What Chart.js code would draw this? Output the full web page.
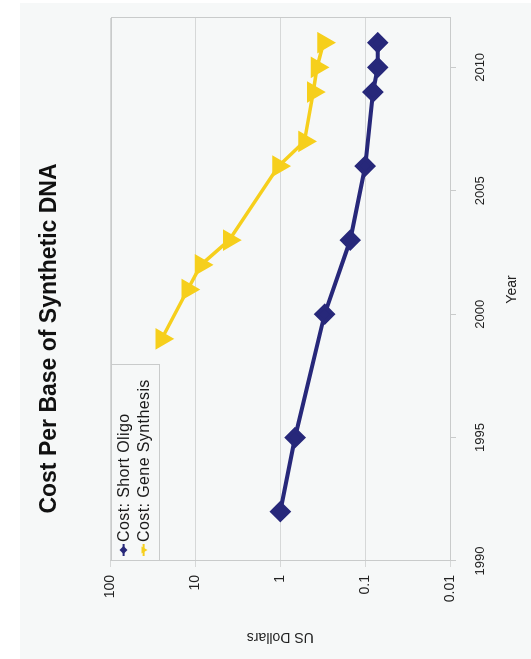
<!DOCTYPE html>
<html>
<head>
<meta charset="utf-8">
<script src="https://cdn.jsdelivr.net/npm/chart.js@4.4.1/dist/chart.umd.min.js"></script>
<style>
  html, body { margin: 0; padding: 0; background: #ffffff; }
  #wrap { position: relative; width: 531px; height: 659px; overflow: hidden; }
  /* the chart is laid out landscape and turned a quarter turn counter-clockwise */
  #chart { position: absolute; left: 0; top: 0; transform-origin: 0 0;
           transform: translate(0, 659px) rotate(-90deg); }
</style>
</head>
<body>
<div id="wrap"><canvas id="chart" width="659" height="531"></canvas></div>
<script>
// Cost per base (US dollars) by year
const oligoYears = [1992, 1995, 2000, 2003, 2006, 2009, 2010, 2011];
const oligoCost  = [1.0, 0.67, 0.30, 0.15, 0.10, 0.081, 0.071, 0.071];
const geneYears  = [1999, 2001, 2002, 2003, 2006, 2007, 2009, 2010, 2011];
const geneCost   = [25, 12.3, 8.6, 4.0, 1.05, 0.52, 0.41, 0.37, 0.31];

const seriesNames = ['Cost: Short Oligo', 'Cost: Gene Synthesis'];
const yearTicks   = [1990, 1995, 2000, 2005, 2010];
const dollarTicks = [100, 10, 1, 0.1, 0.01];

const NAVY = '#27287a';
const GOLD = '#f6cf1c';
const PANEL = '#f6f8f8';
const FRAME = '#c9cbcb';
const FONT = "'Liberation Sans', Arial, sans-serif";

const toPoints = (xs, ys) => xs.map((x, i) => ({ x: x, y: ys[i] }));

// page background, with a thin white margin along two edges
const backdrop = {
  id: 'backdrop',
  beforeDraw(chart) {
    const ctx = chart.ctx;
    ctx.save();
    ctx.fillStyle = '#ffffff';
    ctx.fillRect(0, 0, chart.width, chart.height);
    ctx.fillStyle = PANEL;
    ctx.fillRect(0, 20, chart.width - 3, chart.height - 20);
    ctx.restore();
  }
};

// box round the plot area
const frame = {
  id: 'frame',
  beforeDatasetsDraw(chart) {
    const { left, top, right, bottom } = chart.chartArea;
    const ctx = chart.ctx;
    ctx.save();
    ctx.strokeStyle = FRAME;
    ctx.lineWidth = 1;
    ctx.strokeRect(Math.round(left) + 0.5, Math.round(top) + 0.5,
                   Math.round(right - left), Math.round(bottom - top));
    ctx.restore();
  }
};

function marker(ctx, style, x, y, r, color) {
  ctx.fillStyle = color;
  ctx.beginPath();
  if (style === 'rectRot') {
    ctx.moveTo(x, y - r); ctx.lineTo(x + r, y); ctx.lineTo(x, y + r); ctx.lineTo(x - r, y);
  } else {
    ctx.moveTo(x, y + r); ctx.lineTo(x + r * 0.87, y - r * 0.5); ctx.lineTo(x - r * 0.87, y - r * 0.5);
  }
  ctx.closePath();
  ctx.fill();
}

// legend box in the top-left corner of the plot
const cornerLegend = {
  id: 'cornerLegend',
  afterDraw(chart) {
    const { left, top } = chart.chartArea;
    const ctx = chart.ctx;
    const w = 196, h = 48;
    ctx.save();
    ctx.fillStyle = PANEL;
    ctx.fillRect(left + 1, top + 1, w - 1, h - 1);
    ctx.strokeStyle = FRAME;
    ctx.lineWidth = 1;
    ctx.strokeRect(Math.round(left) + 0.5, Math.round(top) + 0.5, w, h);
    ctx.font = '16px ' + FONT;
    ctx.letterSpacing = '0.4px';
    ctx.textBaseline = 'middle';
    ctx.textAlign = 'left';
    chart.data.datasets.forEach((ds, i) => {
      const y = top + 13 + i * 20;
      const x0 = left + 5;
      ctx.strokeStyle = ds.borderColor;
      ctx.lineWidth = 2;
      ctx.beginPath(); ctx.moveTo(x0, y); ctx.lineTo(x0 + 12, y); ctx.stroke();
      marker(ctx, ds.pointStyle, x0 + 6, y, 4, ds.borderColor);
      ctx.fillStyle = '#1a1a1a';
      ctx.fillText(ds.label, x0 + 14, y + 1);
    });
    ctx.restore();
  }
};

new Chart(document.getElementById('chart'), {
  type: 'line',
  data: {
    datasets: [
      {
        label: seriesNames[0],
        data: toPoints(oligoYears, oligoCost),
        borderColor: NAVY, backgroundColor: NAVY,
        borderWidth: 4, pointStyle: 'rectRot', pointRadius: 8,
        pointHoverRadius: 8, tension: 0
      },
      {
        label: seriesNames[1],
        data: toPoints(geneYears, geneCost),
        borderColor: GOLD, backgroundColor: GOLD,
        borderWidth: 3.5, pointStyle: 'triangle', pointRotation: 180,
        pointRadius: 9, pointHoverRadius: 9, tension: 0
      }
    ]
  },
  options: {
    responsive: false,
    animation: false,
    devicePixelRatio: 1,
    layout: { padding: { left: 0, right: 18, top: 0, bottom: 0 } },
    plugins: {
      legend: { display: false },
      tooltip: { enabled: false },
      title: {
        display: true,
        text: 'Cost Per Base of Synthetic DNA',
        color: '#111111',
        font: { family: FONT, size: 23, weight: 'bold' },
        padding: { top: 36, bottom: 47 }
      }
    },
    scales: {
      x: {
        type: 'linear',
        min: 1990, max: 2012,
        afterFit(scale) { scale.height = 81; },
        afterBuildTicks(scale) { scale.ticks = yearTicks.map(v => ({ value: v })); },
        grid: { drawOnChartArea: false, color: FRAME, tickLength: 6 },
        border: { color: FRAME },
        ticks: {
          color: '#222222', padding: 17,
          font: { family: FONT, size: 13 },
          callback: v => String(v)
        },
        title: {
          display: true, text: 'Year', color: '#222222',
          font: { family: FONT, size: 14 },
          padding: { top: 10, bottom: 10 }
        }
      },
      y: {
        type: 'logarithmic',
        min: 0.01, max: 100,
        afterFit(scale) { scale.width = 98; },
        afterBuildTicks(scale) { scale.ticks = dollarTicks.map(v => ({ value: v })); },
        grid: { color: '#d6d8d8', tickLength: 6 },
        border: { color: FRAME },
        ticks: {
          color: '#222222', padding: 8,
          font: { family: FONT, size: 14 },
          callback: v => String(v)
        },
        title: {
          display: true, text: 'US Dollars', color: '#222222',
          font: { family: FONT, size: 14 },
          padding: { top: 14, bottom: 14 }
        }
      }
    }
  },
  plugins: [backdrop, frame, cornerLegend]
});
</script>
</body>
</html>
